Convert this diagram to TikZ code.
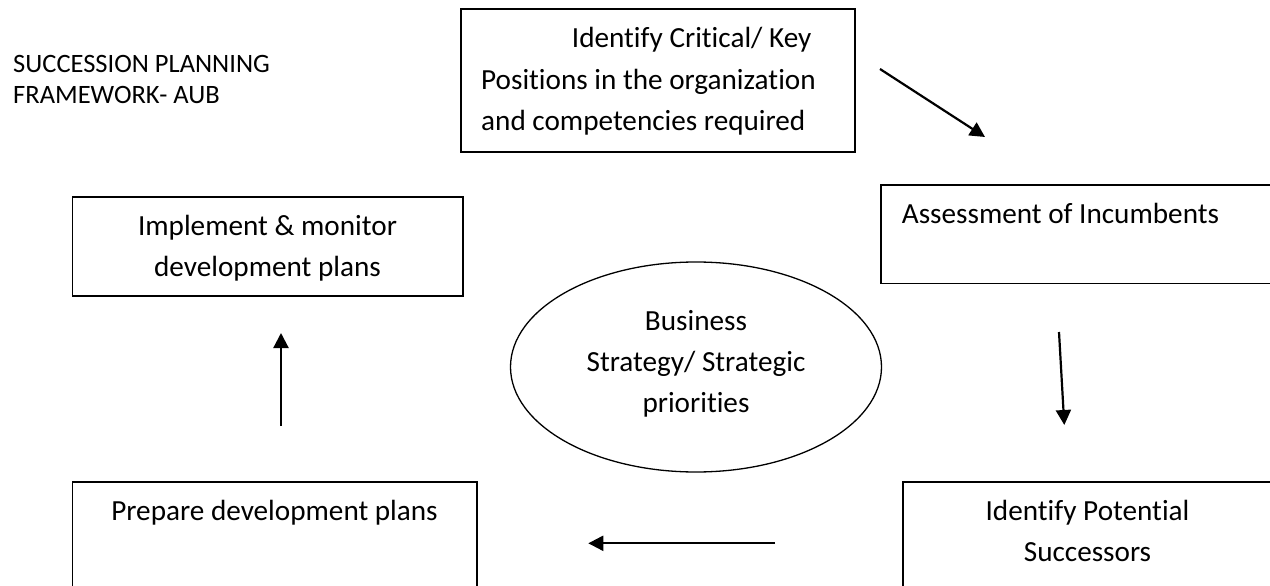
\documentclass[tikz,border=0pt]{standalone}
\usepackage{fontspec}
\setmainfont{Carlito}[RawFeature={-liga}]
\usetikzlibrary{arrows.meta,shapes.geometric}
% Type sizes and line pitch (drawing unit: 1pt)
\newcommand{\boxfont}{\fontsize{29.2}{41.2}\selectfont}
\newcommand{\titlefont}{\fontsize{26.5}{31}\selectfont}
\begin{document}
\begin{tikzpicture}[x=1pt,y=-1pt,
  stepbox/.style={draw=black, line width=1.6pt, rectangle, inner sep=0pt},
  hub/.style={draw=black, line width=1.3pt, ellipse, inner sep=0pt},
  txt/.style={inner sep=0pt, anchor=base, font=\boxfont},
  flow/.style={draw=black, line width=2.2pt, -{Triangle[length=15pt,width=15pt]}}]
\useasboundingbox (0,0) rectangle (1270,586);
\clip (0,0) rectangle (1270,586);
\fill[white] (0,0) rectangle (1270,586);

% Title
\node[inner sep=0pt, anchor=base west, font=\titlefont] (title) at (13,73)
  {\begin{tabular}[t]{@{}l@{}}SUCCESSION PLANNING\\FRAMEWORK- AUB\end{tabular}};

% Process steps
\node[stepbox, minimum width=394pt, minimum height=143pt] (key) at (658,80.5) {};
\node[txt, anchor=base west] (keyT) at (481,48)
  {\begin{tabular}[t]{@{}l@{}}\hspace*{90.7pt}Identify Critical/ Key\\Positions in the organization\\and competencies required\end{tabular}};

\node[stepbox, minimum width=394pt, minimum height=98.3pt] (assess) at (1078,234.2) {};
\node[txt, anchor=base west] (assessT) at (901.7,223.3) {Assessment of Incumbents};

\node[stepbox, minimum width=369pt, minimum height=120pt] (succ) at (1087.5,541.7) {};
\node[txt] (succT) at (1087.5,520)
  {\begin{tabular}[t]{@{}c@{}}Identify Potential\\Successors\end{tabular}};

\node[stepbox, minimum width=404.4pt, minimum height=120pt] (prep) at (274.5,541.7) {};
\node[txt] (prepT) at (274.5,520) {Prepare development plans};

\node[stepbox, minimum width=390.4pt, minimum height=99.3pt] (impl) at (267.5,246.35) {};
\node[txt] (implT) at (267.5,235)
  {\begin{tabular}[t]{@{}c@{}}Implement \& monitor\\development plans\end{tabular}};

% Central strategy ellipse
\node[hub, minimum width=371pt, minimum height=210pt] (core) at (696,367) {};
\node[txt] (coreT) at (696,330)
  {\begin{tabular}[t]{@{}c@{}}Business\\Strategy/ Strategic\\priorities\end{tabular}};

% Arrow end points
\coordinate (k2a) at (880,69);   \coordinate (a2k) at (985,137);
\coordinate (a2s) at (1059,332); \coordinate (s2a) at (1064.3,425);
\coordinate (s2p) at (775,543.3); \coordinate (p2s) at (588.3,543.3);
\coordinate (p2i) at (281,426);  \coordinate (i2p) at (281,333);

% Cycle arrows
\draw[flow] (k2a) -- (a2k);
\draw[flow] (a2s) -- (s2a);
\draw[flow] (s2p) -- (p2s);
\draw[flow] (p2i) -- (i2p);
\end{tikzpicture}
\end{document}
